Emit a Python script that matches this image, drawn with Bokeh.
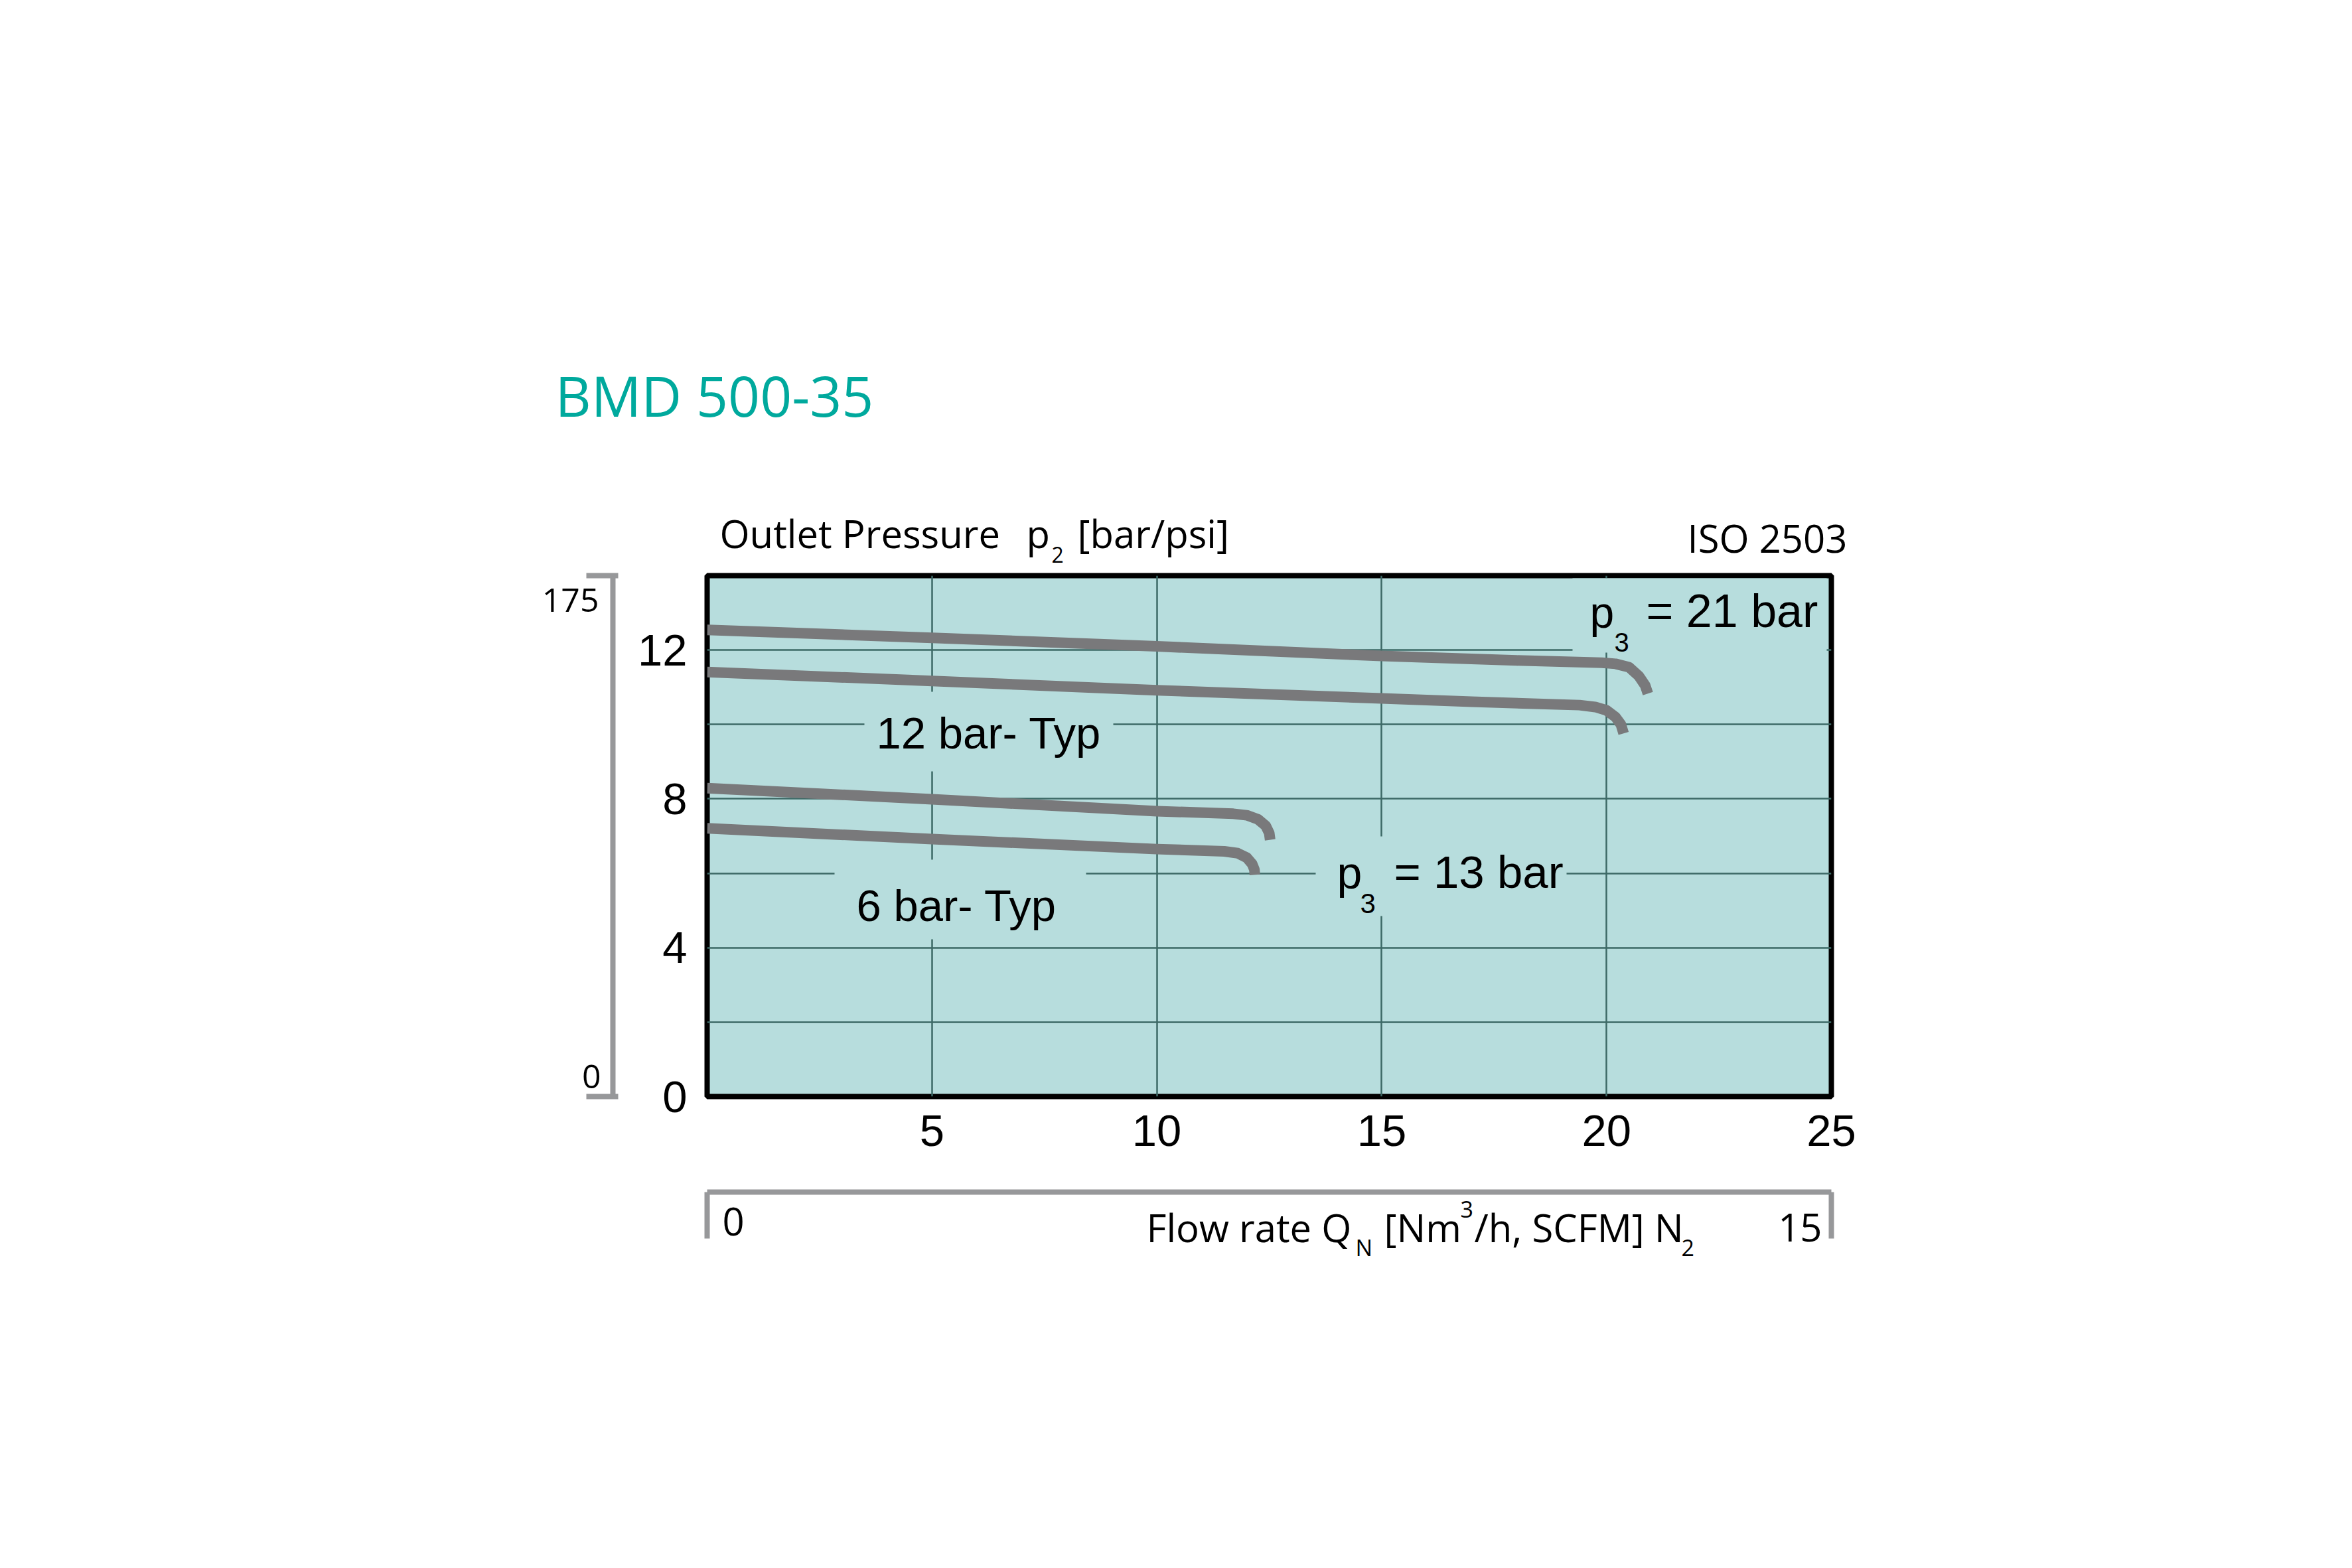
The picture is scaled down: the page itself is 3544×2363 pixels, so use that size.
from bokeh.plotting import figure
from bokeh.models import Range1d, LinearAxis, FixedTicker, Label, BoxAnnotation
from bokeh.embed import file_html
from bokeh.resources import INLINE

# ---------------- data ----------------
title_text = "BMD 500-35"
x_ticks = [5, 10, 15, 20, 25]
y_ticks = [0, 4, 8, 12]
x_grid = [5, 10, 15, 20]
y_grid = [2, 4, 6, 8, 10, 12]
psi_ticks = [0, 175]
scfm_ticks = [0, 15]

# 12 bar type, p3 = 21 bar
c21_x = [0, 5, 10, 15, 18, 19.9, 20.2, 20.5, 20.72, 20.86, 20.92]
c21_y = [12.54, 12.33, 12.1, 11.84, 11.72, 11.66, 11.63, 11.54, 11.3, 11.05, 10.83]
# 12 bar type, p3 = 13 bar
c12_x = [0, 5, 10, 15, 17, 19.4, 19.75, 20.0, 20.2, 20.32, 20.38]
c12_y = [11.41, 11.17, 10.92, 10.7, 10.61, 10.52, 10.47, 10.38, 10.2, 10.0, 9.76]
# 6 bar type, upper
c6a_x = [0, 5, 10, 11.7, 12.0, 12.25, 12.42, 12.5, 12.52]
c6a_y = [8.29, 7.99, 7.67, 7.6, 7.56, 7.45, 7.28, 7.08, 6.9]
# 6 bar type, lower
c6b_x = [0, 5, 10, 11.5, 11.8, 12.0, 12.12, 12.17, 12.18]
c6b_y = [7.21, 6.92, 6.65, 6.59, 6.54, 6.42, 6.25, 6.1, 5.96]

# ---------------- layout ----------------
W, H = 3540, 2360
FL, FT, FW, FH = 1065, 867, 1694, 785
XMAX, YMAX = 25, 14
BG = "#b7dddd"
GRID = "#3d6966"
CURVE = "#79797b"
BRACKET = "#97989a"
TEAL = "#00a99d"
KBASE = 0.39  # baseline correction (fraction of font size)


def X(px):  # page pixel -> data x
    return (px - FL) * XMAX / FW


def Y(py):  # page pixel -> data y
    return (FT + FH - py) * YMAX / FH


p = figure(width=W, height=H, x_range=Range1d(0, XMAX), y_range=Range1d(0, YMAX),
           output_backend="svg", toolbar_location=None,
           min_border_left=FL, min_border_top=FT,
           min_border_right=W - FL - FW, min_border_bottom=H - FT - FH)
p.background_fill_color = BG
p.border_fill_color = "white"
p.outline_line_color = "black"
p.outline_line_width = 8

# grids
p.xgrid.ticker = FixedTicker(ticks=x_grid)
p.ygrid.ticker = FixedTicker(ticks=y_grid)
for g in (p.xgrid, p.ygrid):
    g.grid_line_color = GRID
    g.grid_line_width = 2.5

# main axes
TICKFONT = "Liberation Sans"
xa = p.xaxis[0]
xa.ticker = FixedTicker(ticks=x_ticks)
ya = p.yaxis[0]
ya.ticker = FixedTicker(ticks=y_ticks)
for ax in (xa, ya):
    ax.axis_line_color = None
    ax.major_tick_out = 0
    ax.major_tick_in = 0
    ax.minor_tick_out = 0
    ax.minor_tick_in = 0
    ax.major_label_text_font = TICKFONT
    ax.major_label_text_font_size = "67px"
    ax.major_label_text_color = "black"
    ax.axis_label = " "
    ax.axis_label_text_font_size = "24px"
xa.major_label_standoff = 28
xa.axis_label_standoff = 37
ya.major_label_standoff = 30
ya.axis_label_standoff = 4

# psi bracket (left)
p.extra_y_ranges = {"psi": Range1d(0, 175)}
psi_ax = LinearAxis(y_range_name="psi", ticker=FixedTicker(ticks=psi_ticks),
                    major_label_overrides={t: "" for t in psi_ticks},
                    major_label_standoff=0, major_label_text_font_size="10px",
                    axis_line_color=BRACKET, axis_line_width=8,
                    major_tick_line_color=BRACKET, major_tick_line_width=8,
                    major_tick_out=40, major_tick_in=8,
                    minor_tick_out=0, minor_tick_in=0)
p.add_layout(psi_ax, "left")

# SCFM bracket (below)
p.extra_x_ranges = {"scfm": Range1d(0, 15)}
scfm_ax = LinearAxis(x_range_name="scfm", ticker=FixedTicker(ticks=scfm_ticks),
                     major_label_overrides={t: "" for t in scfm_ticks},
                     major_label_standoff=0, major_label_text_font_size="10px",
                     axis_line_color=BRACKET, axis_line_width=8,
                     major_tick_line_color=BRACKET, major_tick_line_width=8,
                     major_tick_out=70, major_tick_in=0,
                     minor_tick_out=0, minor_tick_in=0)
p.add_layout(scfm_ax, "below")

# gaps in the grid behind the in-chart labels
for (l, r, t, b) in [(2369, 2752, 871, 983), (1302, 1677, 1042, 1162),
                     (1257, 1636, 1295, 1415), (1982, 2360, 1260, 1380)]:
    p.add_layout(BoxAnnotation(left=X(l), right=X(r), top=Y(t), bottom=Y(b),
                               fill_color=BG, fill_alpha=1.0, line_alpha=0,
                               level="underlay"))

# curves
for xs, ys in [(c21_x, c21_y), (c12_x, c12_y), (c6a_x, c6a_y), (c6b_x, c6b_y)]:
    p.line(xs, ys, line_width=16, line_color=CURVE, line_cap="butt", line_join="round")


def lab(text, px, py, font, size, color="black", align="left", place=None):
    lb = Label(x=X(px), y=Y(py - KBASE * size), text=text, text_font=font,
               text_font_size=f"{size}px", text_color=color,
               text_align=align, text_baseline="alphabetic")
    if place is None:
        p.add_layout(lb)
    else:
        p.add_layout(lb, place)


OS = "Open Sans"
LS = "Liberation Sans"

# title and headers (outside the frame: kept in side panels)
lab(title_text, 836, 628, OS, 84, TEAL, place="above")
lab("Outlet Pressure", 1084, 826, OS, 58, place="above")
lab("p", 1546, 826, OS, 58, place="above")
lab("2", 1584, 848, OS, 32, place="above")
lab("[bar/psi]", 1623, 826, OS, 58, place="above")
lab("ISO 2503", 2542, 833, OS, 58, place="above")

# psi bracket labels
lab("175", 902, 923, OS, 50, align="right", place="left")
lab("0", 905, 1641, OS, 50, align="right", place="left")

# SCFM bracket labels
lab("0", 1088, 1863, OS, 58, place="below")
lab("Flow rate Q", 1727, 1872, OS, 58, place="below")
lab("N", 2042, 1893, OS, 34, place="below")
lab("[Nm", 2085, 1872, OS, 58, place="right")
lab("3", 2200, 1835, OS, 34, place="right")
lab("/h, SCFM] N", 2221, 1872, OS, 58, place="right")
lab("2", 2533, 1893, OS, 34, place="right")
lab("15", 2745, 1872, OS, 58, align="right", place="right")

# in-chart labels
lab("12 bar- Typ", 1320, 1130, LS, 67)
lab("6 bar- Typ", 1290, 1390, LS, 67)
lab("p", 2014, 1341, LS, 68)
lab("3", 2049, 1377, LS, 42)
lab("= 13 bar", 2100, 1341, LS, 69)
lab("p", 2395, 948, LS, 66)
lab("3", 2432, 983, LS, 40)
lab("= 21 bar", 2480, 948, LS, 70)

open("out.html", "w").write(file_html(p, INLINE))
